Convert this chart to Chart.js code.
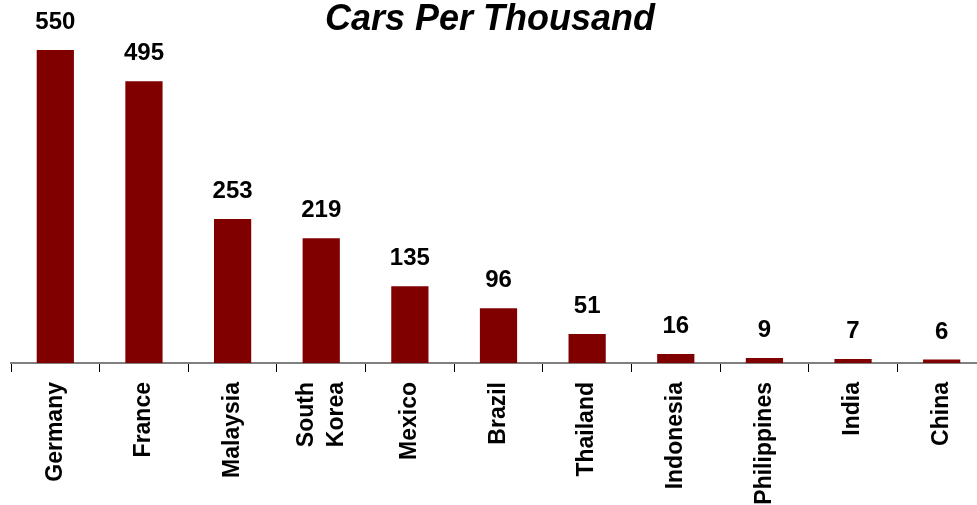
<!DOCTYPE html>
<html lang="en">
<head>
  <meta charset="UTF-8" />
  <title>Cars Per Thousand</title>
  <script src="https://cdn.jsdelivr.net/npm/chart.js"></script>
  <style>
    html, body { margin: 0; padding: 0; background: #fff; overflow: hidden; }
    .wrap { width: 977px; height: 505px; overflow: hidden; position: relative; }
    #carsChart { position: absolute; left: -6px; top: 0; }
  </style>
</head>
<body>
  <div class="wrap">
    <canvas id="carsChart" width="1000" height="505"></canvas>
  </div>
  <script>
    const countries = ['Germany', 'France', 'Malaysia', ['South', 'Korea'], 'Mexico', 'Brazil',
                       'Thailand', 'Indonesia', 'Philippines', 'India', 'China'];
    const carsPerThousand = [550, 495, 253, 219, 135, 96, 51, 16, 9, 7, 6];

    const FONT = "'Liberation Sans', Arial, sans-serif";
    const LABEL_SIZE = 23;
    const LABEL_LINE = 1.3;
    Chart.defaults.color = '#000';

    // value printed above each bar
    const barValues = {
      id: 'barValues',
      afterDatasetsDraw(chart) {
        const ctx = chart.ctx;
        const meta = chart.getDatasetMeta(0);
        ctx.save();
        ctx.font = 'bold 24px ' + FONT;
        ctx.fillStyle = '#000';
        ctx.textAlign = 'center';
        ctx.textBaseline = 'alphabetic';
        meta.data.forEach((bar, i) => {
          ctx.fillText(String(carsPerThousand[i]), bar.x, bar.y - 21);
        });
        ctx.restore();
      }
    };

    // rotated multi-line labels start at the tick; shift them so the lines sit centred on it
    const centreMultiline = {
      id: 'centreMultiline',
      beforeDraw(chart) {
        const scale = chart.scales.x;
        const items = scale.getLabelItems();
        items.forEach(item => {
          if (Array.isArray(item.label) && item.label.length > 1) {
            const lh = LABEL_SIZE * LABEL_LINE;
            item.options.translation[0] -= (item.label.length - 1) * lh / 2;
          }
        });
      }
    };

    new Chart(document.getElementById('carsChart'), {
      type: 'bar',
      data: {
        labels: countries,
        datasets: [{
          data: carsPerThousand,
          backgroundColor: '#800000',
          borderWidth: 0,
          barPercentage: 0.42,
          categoryPercentage: 1
        }]
      },
      options: {
        responsive: false,
        animation: false,
        layout: { padding: { left: 0, right: 8, top: 0, bottom: 0 } },
        plugins: {
          legend: { display: false },
          tooltip: { enabled: false },
          title: {
            display: true,
            text: 'Cars Per Thousand',
            color: '#000',
            font: { family: FONT, size: 36, weight: 'bold', style: 'italic', lineHeight: 1.2 },
            padding: { top: -2, bottom: 3 }
          }
        },
        scales: {
          x: {
            grid: {
              display: true,
              offset: true,
              drawOnChartArea: false,
              drawTicks: true,
              tickLength: 9,
              color: '#000',
              lineWidth: 1
            },
            border: { display: true, color: '#808080', width: 2 },
            ticks: {
              autoSkip: false,
              minRotation: 90,
              maxRotation: 90,
              padding: 10,
              color: '#000',
              font: { family: FONT, size: LABEL_SIZE, weight: 'bold', lineHeight: LABEL_LINE }
            },
            afterFit: s => { s.height = 142; }
          },
          y: {
            min: 0,
            max: 560,
            grid: { display: false },
            border: { display: false },
            ticks: { display: false },
            afterFit: s => { s.width = 17; }
          }
        }
      },
      plugins: [barValues, centreMultiline]
    });
  </script>
</body>
</html>
